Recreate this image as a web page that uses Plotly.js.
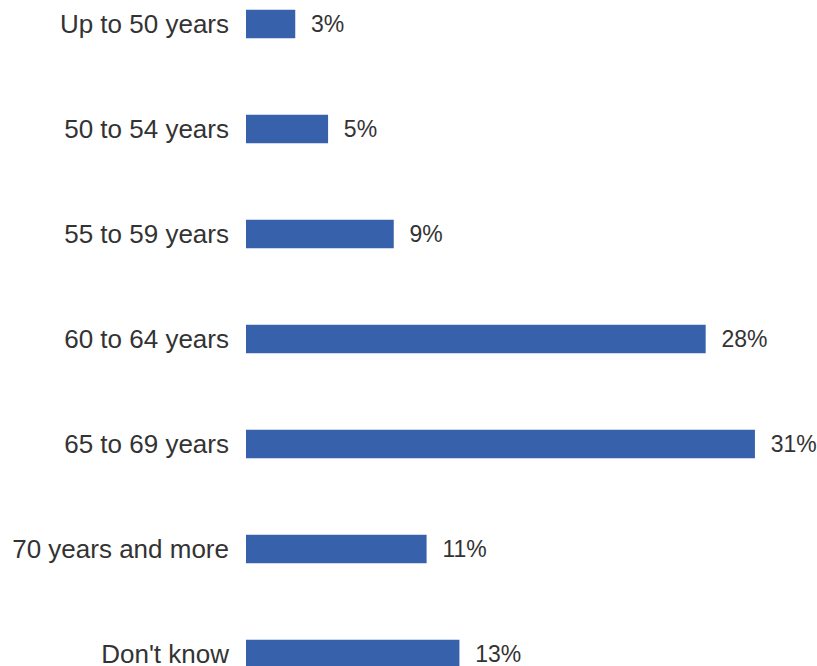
<!DOCTYPE html>
<html><head><meta charset="utf-8">
<script src="https://cdn.plot.ly/plotly-3.0.1.min.js"></script>
<style>html,body{margin:0;padding:0;background:#fff;}#c{width:817px;height:666px;}</style>
</head><body><div id="c"></div>
<script>
const categories = ["Up to 50 years","50 to 54 years","55 to 59 years","60 to 64 years","65 to 69 years","70 years and more","Don't know"];
const values = [3,5,9,28,31,11,13];
const labels = values.map(v => "\u00a0\u00a0" + v + "%");

Plotly.newPlot('c', [{
  type: 'bar', orientation: 'h',
  x: values, y: categories,
  text: labels, textposition: 'outside', cliponaxis: false,
  textfont: {family: 'Liberation Sans, Arial, sans-serif', size: 23, color: '#333333'},
  marker: {color: '#3762ab'},
  width: 0.27,
  hoverinfo: 'none'
}], {
  width: 817, height: 666,
  margin: {l: 246, r: 0, t: 0, b: 0},
  paper_bgcolor: '#ffffff', plot_bgcolor: '#ffffff',
  showlegend: false,
  xaxis: {range: [0, 34.78], visible: false, fixedrange: true},
  yaxis: {type: 'category', range: [6.114, -0.229], showgrid: false, zeroline: false, showline: false,
          ticks: '', ticklabelstandoff: 16,
          tickfont: {family: 'Liberation Sans, Arial, sans-serif', size: 26, color: '#333333'}},
  font: {family: 'Liberation Sans, Arial, sans-serif'}
}, {staticPlot: true});
</script></body></html>
